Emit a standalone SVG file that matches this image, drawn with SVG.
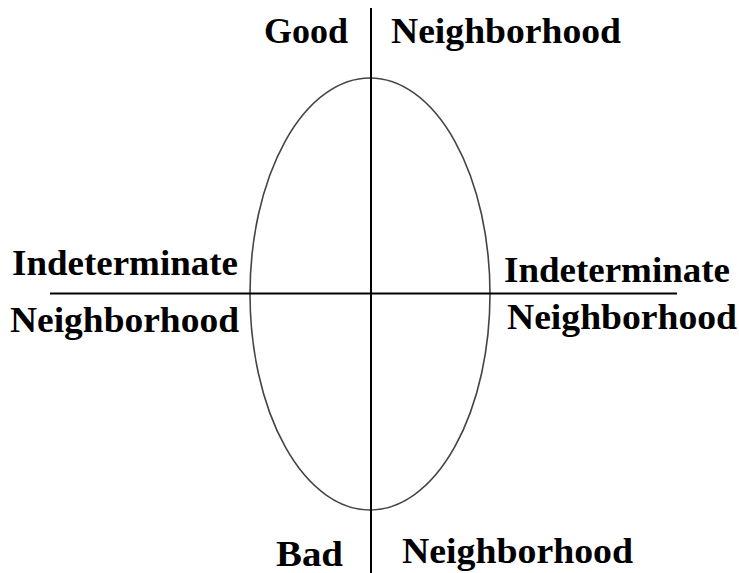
<svg xmlns="http://www.w3.org/2000/svg" width="739" height="573" viewBox="0 0 739 573">
<style>
.t{font-family:"Liberation Serif","Times New Roman",serif;font-weight:bold;font-size:35px;fill:#000}
.ax{stroke:#000;stroke-width:2;fill:none}
.el{stroke:#444;stroke-width:1.6;fill:none}
</style>
<rect width="739" height="573" fill="#fff"/>
<g id="ellipse"><ellipse class="el" cx="370" cy="294" rx="120" ry="216"/></g>
<g id="connectors">
<line class="ax" x1="371" y1="8" x2="371" y2="573"/>
<line class="ax" x1="50" y1="293.5" x2="677" y2="293.5" stroke="#333"/>
</g>
<g id="good"><text class="t" x="264" y="43" textLength="84" lengthAdjust="spacingAndGlyphs">Good</text></g>
<g id="top-neighborhood"><text class="t" x="391" y="43" textLength="230" lengthAdjust="spacingAndGlyphs">Neighborhood</text></g>
<g id="left-indeterminate"><text class="t" x="12" y="275" textLength="226" lengthAdjust="spacingAndGlyphs">Indeterminate</text></g>
<g id="left-neighborhood"><text class="t" x="10" y="332" textLength="229" lengthAdjust="spacingAndGlyphs">Neighborhood</text></g>
<g id="right-indeterminate"><text class="t" x="504" y="282" textLength="226" lengthAdjust="spacingAndGlyphs">Indeterminate</text></g>
<g id="right-neighborhood"><text class="t" x="507" y="329" textLength="230" lengthAdjust="spacingAndGlyphs">Neighborhood</text></g>
<g id="bad"><text class="t" x="276" y="566" font-size="33" textLength="67" lengthAdjust="spacingAndGlyphs">Bad</text></g>
<g id="bottom-neighborhood"><text class="t" x="402" y="563" textLength="231" lengthAdjust="spacingAndGlyphs">Neighborhood</text></g>
</svg>
